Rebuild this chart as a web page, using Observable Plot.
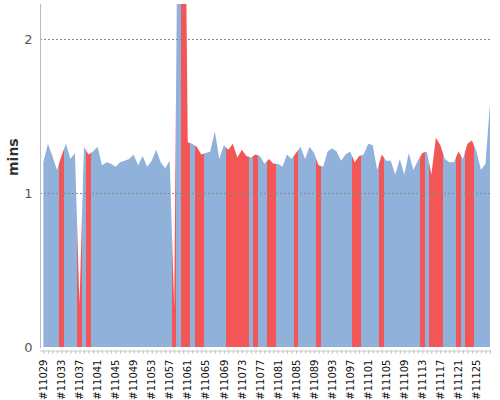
<!DOCTYPE html>
<html>
<head>
<meta charset="utf-8">
<script src="https://cdn.jsdelivr.net/npm/d3@7"></script>
<script src="https://cdn.jsdelivr.net/npm/@observablehq/plot@0.6"></script>
<style>
  body { margin: 0; background: #fff; }
</style>
</head>
<body>
<div id="chart"></div>
<script>
const ids = [
  "#11029","#11030","#11031","#11032","#11033","#11034","#11035","#11036","#11037","#11038",
  "#11039","#11040","#11041","#11042","#11043","#11044","#11045","#11046","#11047","#11048",
  "#11049","#11050","#11051","#11052","#11053","#11054","#11055","#11056","#11057","#11058",
  "#11059","#11060","#11061","#11062","#11063","#11064","#11065","#11066","#11067","#11068",
  "#11069","#11070","#11071","#11072","#11073","#11074","#11075","#11076","#11077","#11078",
  "#11079","#11080","#11081","#11082","#11083","#11084","#11085","#11086","#11087","#11088",
  "#11089","#11090","#11091","#11092","#11093","#11094","#11095","#11096","#11097","#11098",
  "#11099","#11100","#11101","#11102","#11103","#11104","#11105","#11106","#11107","#11108",
  "#11109","#11110","#11111","#11112","#11113","#11114","#11115","#11116","#11117","#11118",
  "#11119","#11120","#11121","#11122","#11123","#11124","#11125","#11126","#11127","#11128"
];

const mins = [
  1.20, 1.32, 1.24, 1.15, 1.24, 1.32, 1.22, 1.26, 0.28, 1.30,
  1.25, 1.27, 1.30, 1.18, 1.20, 1.19, 1.17, 1.20, 1.21, 1.22,
  1.25, 1.18, 1.24, 1.17, 1.21, 1.28, 1.20, 1.16, 1.21, 0.26,
  3.70, 4.40, 1.33, 1.32, 1.30, 1.25, 1.26, 1.27, 1.40, 1.22,
  1.31, 1.28, 1.32, 1.23, 1.28, 1.24, 1.23, 1.25, 1.24, 1.19,
  1.22, 1.19, 1.19, 1.17, 1.25, 1.22, 1.26, 1.30, 1.22, 1.30,
  1.26, 1.18, 1.17, 1.27, 1.29, 1.27, 1.21, 1.25, 1.27, 1.20,
  1.24, 1.25, 1.32, 1.31, 1.15, 1.25, 1.21, 1.21, 1.12, 1.22,
  1.12, 1.26, 1.15, 1.21, 1.26, 1.27, 1.12, 1.36, 1.31, 1.22,
  1.20, 1.20, 1.27, 1.22, 1.32, 1.34, 1.27, 1.15, 1.19, 1.58
];

const redIds = [
  "#11033","#11037","#11039","#11058","#11060","#11061","#11063","#11064",
  "#11070","#11071","#11072","#11073","#11074","#11076","#11079","#11080",
  "#11085","#11090","#11098","#11099","#11104","#11113","#11115","#11116",
  "#11117","#11121","#11123","#11124"
];

const tickLabels = [
  "#11029","#11033","#11037","#11041","#11045","#11049","#11053","#11057","#11061",
  "#11065","#11069","#11073","#11077","#11081","#11085","#11089","#11093","#11097",
  "#11101","#11105","#11109","#11113","#11117","#11121","#11125"
];

const yTicks = [0, 1, 2];

const BLUE = "#8fb1da";
const RED = "#f35656";

const data = ids.map((id, i) => ({i, id, mins: mins[i], red: redIds.includes(id)}));
const allIdx = ids.map((d, i) => i);
const labelIdx = tickLabels.map(t => ids.indexOf(t));

const W = 500, H = 400;

const plot = Plot.plot({
  width: W,
  height: H,
  marginTop: 4,
  marginBottom: 53,
  marginLeft: 40,
  marginRight: 10,
  style: {fontFamily: "'DejaVu Sans', sans-serif", background: "#fff", overflow: "visible"},
  x: {type: "linear", domain: [-0.75, ids.length - 1]},
  y: {domain: [0, 2.227]},
  marks: [
    Plot.areaY(data, {x: "i", y: "mins", fill: "url(#mins-fill)", clip: true}),
    Plot.ruleY(yTicks.filter(d => d > 0), {stroke: "#888", strokeDasharray: "2,2", strokeWidth: 1}),
    Plot.frame({anchor: "left", stroke: "#bbb"}),
    Plot.axisY({ticks: yTicks, tickSize: 0, tickPadding: 8, tickFormat: d => String(d), fontSize: 13, fill: "#555", label: null}),
    Plot.text(["mins"], {frameAnchor: "left", dx: -27, rotate: -90, fontWeight: "bold", fontSize: 14, fill: "#333"}),
    Plot.ruleY([0], {dy: 3.5, stroke: "#ccc"}),
    Plot.axisX({ticks: allIdx, tickSize: 3, tickPadding: 0, tickFormat: () => "", stroke: "#bbb", dy: 3.5, label: null}),
    Plot.axisX({ticks: labelIdx, tickSize: 0, tickPadding: 12, tickRotate: -90, tickFormat: i => ids[i], fontSize: 10, fill: "#111", label: null})
  ]
});

// Colour the area band-by-band with a gradient placed through the x scale
const sx = plot.scale("x");
const xs = data.map(d => sx.apply(d.i));
const ns = "http://www.w3.org/2000/svg";
const defs = document.createElementNS(ns, "defs");
const grad = document.createElementNS(ns, "linearGradient");
grad.setAttribute("id", "mins-fill");
grad.setAttribute("gradientUnits", "userSpaceOnUse");
grad.setAttribute("x1", 0); grad.setAttribute("x2", W);
grad.setAttribute("y1", 0); grad.setAttribute("y2", 0);
function addStop(px, color) {
  const s = document.createElementNS(ns, "stop");
  s.setAttribute("offset", Math.max(0, Math.min(1, px / W)));
  s.setAttribute("stop-color", color);
  grad.appendChild(s);
}
const col = d => d.red ? RED : BLUE;
addStop(0, col(data[0]));
for (let k = 1; k < data.length; k++) {
  if (data[k].red !== data[k - 1].red) {
    const b = (xs[k - 1] + xs[k]) / 2;
    addStop(b, col(data[k - 1]));
    addStop(b, col(data[k]));
  }
}
addStop(W, col(data[data.length - 1]));
defs.appendChild(grad);
plot.insertBefore(defs, plot.firstChild);

document.getElementById("chart").appendChild(plot);
</script>
</body>
</html>
